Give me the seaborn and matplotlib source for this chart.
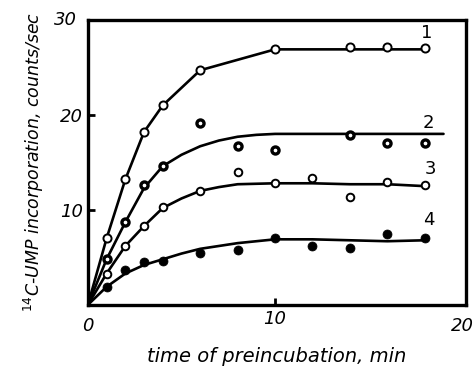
import matplotlib
matplotlib.use('Agg')
import matplotlib.pyplot as plt
import seaborn as sns
import pandas as pd

# measured points (time of preincubation, min / counts per sec)
t1 = [1, 2, 3, 4, 6, 10, 14, 16, 18]
y1 = [7.0, 13.2, 18.2, 21.0, 24.7, 26.9, 27.1, 27.1, 27.0]

t2 = [1, 2, 3, 4, 6, 8, 10, 14, 16, 18]
y2 = [4.8, 8.7, 12.6, 14.6, 19.1, 16.7, 16.3, 17.9, 17.0, 17.0]

t3 = [1, 2, 3, 4, 6, 8, 10, 12, 14, 16, 18]
y3 = [3.3, 6.2, 8.3, 10.3, 12.0, 14.0, 12.8, 13.4, 11.4, 12.9, 12.6]

t4 = [1, 2, 3, 4, 6, 8, 10, 12, 14, 16, 18]
y4 = [1.9, 3.7, 4.5, 4.6, 5.5, 5.8, 7.0, 6.2, 6.0, 7.5, 7.0]

# hand-drawn curves through the points
c1_t = [0, 1, 2, 3, 4, 6, 10, 14, 16, 18]
c1_y = [0, 7.0, 13.2, 18.2, 21.0, 24.7, 26.9, 26.9, 26.9, 26.9]

c2_t = [0, 1, 2, 3, 4, 5, 6, 7, 8, 9, 10, 12, 14, 16, 19]
c2_y = [0, 4.8, 8.7, 12.3, 14.6, 15.8, 16.7, 17.3, 17.7, 17.9, 18.0, 18.0, 18.0, 18.0, 18.0]

c3_t = [0, 1, 2, 3, 4, 5, 6, 7, 8, 10, 12, 14, 16, 18]
c3_y = [0, 3.3, 6.2, 8.3, 10.2, 11.2, 12.0, 12.4, 12.7, 12.8, 12.8, 12.7, 12.7, 12.5]

c4_t = [0, 1, 2, 3, 4, 5, 6, 8, 10, 12, 14, 16, 18]
c4_y = [0, 1.9, 3.3, 4.2, 4.8, 5.4, 5.9, 6.5, 6.9, 6.9, 6.8, 6.7, 6.8]

curve_labels = ['1', '2', '3', '4']
label_x = [18.1, 18.2, 18.3, 18.2]
label_y = [28.6, 19.1, 14.3, 8.9]

sns.set_style('ticks')
plt.rcParams['font.family'] = ['DejaVu Sans']
plt.rcParams['text.color'] = 'black'
plt.rcParams['axes.labelcolor'] = 'black'
plt.rcParams['xtick.color'] = 'black'
plt.rcParams['ytick.color'] = 'black'

fig = plt.figure(figsize=(4.75, 3.83), dpi=100)
ax = fig.add_axes([0.185, 0.204, 0.796, 0.744])

for ct, cy in [(c1_t, c1_y), (c2_t, c2_y), (c3_t, c3_y), (c4_t, c4_y)]:
    sns.lineplot(x=ct, y=cy, ax=ax, color='black', linewidth=1.9, sort=False)

# open circles (curves 1 and 3)
sns.scatterplot(x=t1, y=y1, ax=ax, s=34, color='white', edgecolor='black', linewidth=1.4, zorder=5)
sns.scatterplot(x=t3, y=y3, ax=ax, s=30, color='white', edgecolor='black', linewidth=1.4, zorder=5)
# thick-walled circles (curve 2)
sns.scatterplot(x=t2, y=y2, ax=ax, s=26, color='white', edgecolor='black', linewidth=2.4, zorder=5)
# filled circles (curve 4)
sns.scatterplot(x=t4, y=y4, ax=ax, s=42, color='black', edgecolor='black', zorder=5)

for lab, lx, ly in zip(curve_labels, label_x, label_y):
    ax.text(lx, ly, lab, fontsize=13, ha='center', va='center')

ax.set_xlim(0, 20.2)
ax.set_ylim(0, 30)
ax.set_xticks([10])
ax.set_yticks([10, 20])
ax.tick_params(direction='in', length=5, width=2, labelsize=13)
ax.set_xticklabels(['10'], style='italic')
ax.set_yticklabels(['10', '20'], style='italic')
for s in ax.spines.values():
    s.set_visible(True)
    s.set_linewidth(2.4)
    s.set_color('black')

# corner labels drawn as axis text
ax.text(0, -2.2, '0', fontsize=13, style='italic', ha='center', va='center')
ax.text(20.0, -2.2, '20', fontsize=13, style='italic', ha='center', va='center')
ax.text(-0.6, 30, '30', fontsize=13, style='italic', ha='right', va='center')

ax.set_xlabel('time of preincubation, min', fontsize=14, style='italic', labelpad=14)
ax.set_ylabel('$^{14}$C-UMP incorporation, counts/sec', fontsize=12.5, style='italic', labelpad=10)

fig.savefig('out.png', dpi=100)
